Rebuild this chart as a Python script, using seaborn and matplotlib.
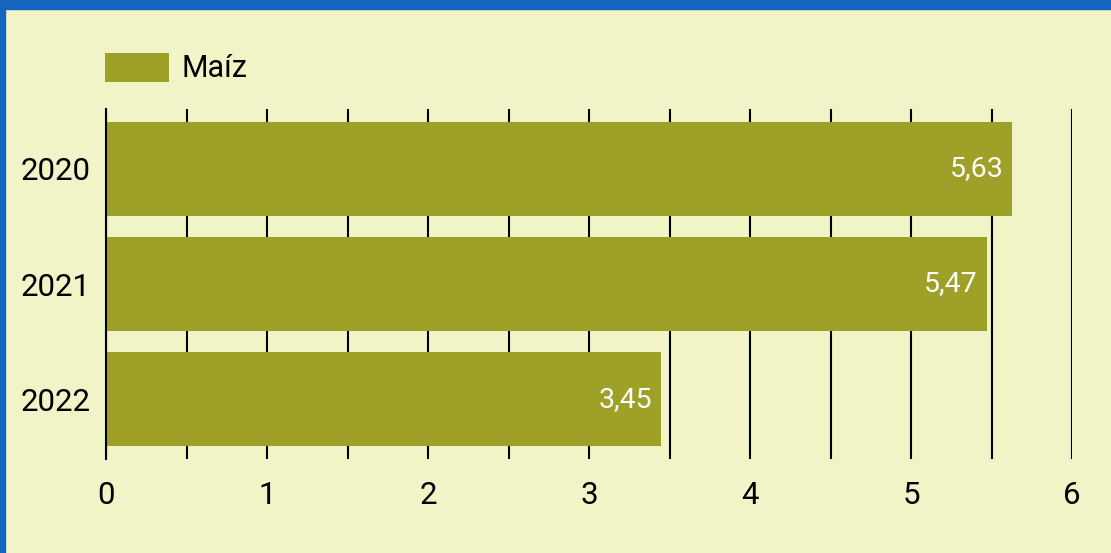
"""Horizontal bar chart of maize values per year."""

import matplotlib

matplotlib.use("Agg")

import matplotlib.pyplot as plt
import numpy as np
import pandas as pd
import seaborn as sns
from matplotlib.patches import Rectangle

YEARS = ["2020", "2021", "2022"]
VALUES = [5.63, 5.47, 3.45]
SERIES_NAME = "Maíz"
X_TICKS = [0, 1, 2, 3, 4, 5, 6]

BAR_COLOR = "#9FA027"
BG_COLOR = "#F0F4C7"
BORDER_COLOR = "#1565C0"


def main() -> None:
    df = pd.DataFrame({"year": YEARS, "value": VALUES})

    sns.set_theme(style="white")
    plt.rcParams["font.family"] = ["Roboto", "DejaVu Sans"]
    plt.rcParams["text.color"] = "black"

    fig = plt.figure(figsize=(11.11, 5.53), dpi=100, facecolor=BG_COLOR)
    ax = fig.add_axes([106 / 1111, 94 / 553, 966 / 1111, 350 / 553])
    ax.set_facecolor(BG_COLOR)

    sns.barplot(
        data=df,
        x="value",
        y="year",
        orient="h",
        color=BAR_COLOR,
        saturation=1,
        width=0.82,
        linewidth=0,
        label=SERIES_NAME,
        ax=ax,
    )

    ax.set_xlim(0, 6)
    ax.set_ylim(2.52, -0.52)
    ax.set_xticks(X_TICKS)
    ax.set_xticks(np.arange(0, 6.01, 0.5), minor=True)
    ax.set_xticklabels([str(t) for t in X_TICKS])
    ax.grid(True, axis="x", which="both", color="black", linewidth=1.5)
    ax.grid(False, axis="y")
    ax.set_axisbelow(True)

    ax.tick_params(axis="x", which="both", length=0, pad=15.5, labelsize=22.5, colors="black")
    ax.tick_params(axis="y", length=0, pad=11, labelsize=22.5, colors="black")
    ax.set_xlabel("")
    ax.set_ylabel("")

    for side in ["top", "right", "bottom"]:
        ax.spines[side].set_visible(False)
    ax.spines["left"].set_color("black")
    ax.spines["left"].set_linewidth(1.5)

    for i, v in enumerate(VALUES):
        ax.annotate(
            f"{v:.2f}".replace(".", ","),
            xy=(v, i),
            xytext=(-6.5, 0),
            textcoords="offset points",
            ha="right",
            va="center",
            color="white",
            fontsize=20.5,
        )

    ax.legend(
        loc="center left",
        bbox_to_anchor=(105 / 1111, 1 - 68 / 553),
        bbox_transform=fig.transFigure,
        frameon=False,
        fontsize=22,
        handlelength=2.1,
        handleheight=1.08,
        handletextpad=0.4,
        borderpad=0,
        borderaxespad=0,
    )

    # blue frame strips along the top and left edges
    fig.patches.append(
        Rectangle((0, 1 - 9 / 553), 1, 9 / 553, transform=fig.transFigure,
                  color=BORDER_COLOR, zorder=10)
    )
    fig.patches.append(
        Rectangle((0, 0), 5 / 1111, 1, transform=fig.transFigure,
                  color=BORDER_COLOR, zorder=10)
    )

    fig.savefig("out.png", dpi=100, facecolor=BG_COLOR)
    plt.close(fig)


if __name__ == "__main__":
    main()
